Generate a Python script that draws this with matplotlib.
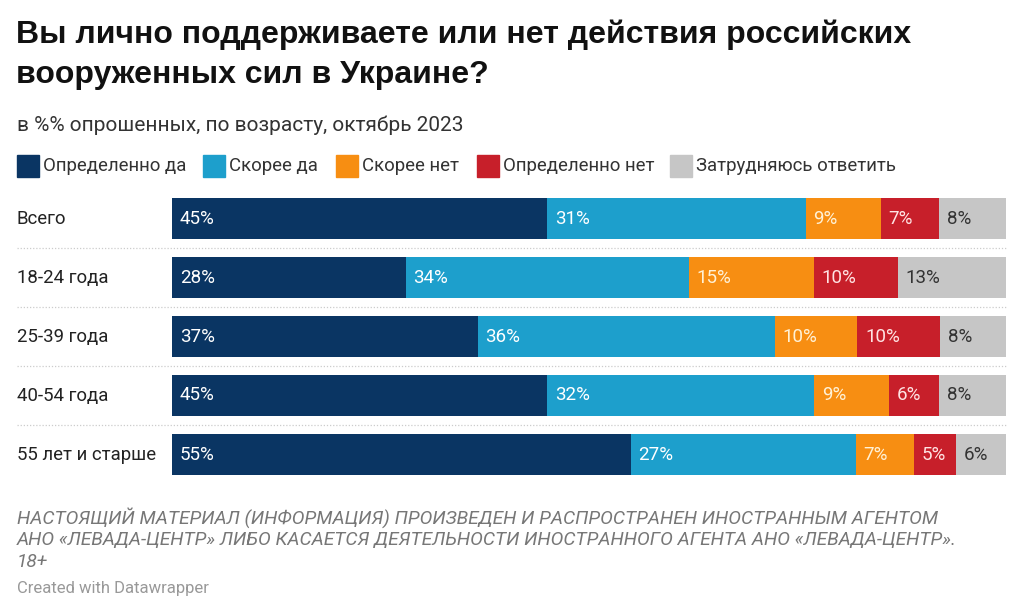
import numpy as np
import matplotlib
matplotlib.use('Agg')
from matplotlib import pyplot as plt
from matplotlib.patches import Rectangle
import matplotlib.transforms as mtrans

# data
groups = ['Всего', '18-24 года', '25-39 года', '40-54 года', '55 лет и старше']
answers = ['Определенно да', 'Скорее да', 'Скорее нет', 'Определенно нет', 'Затрудняюсь ответить']
def_yes = [45, 28, 37, 45, 55]
rather_yes = [31, 34, 36, 32, 27]
rather_no = [9, 15, 10, 9, 7]
def_no = [7, 10, 10, 6, 5]
dont_know = [8, 13, 8, 8, 6]

colors = ['#0a3563', '#1d9fcc', '#f78e12', '#c71f2a', '#c6c6c6']
label_colors = ['#ffffff', '#ffffff', '#fff1d6', '#ffe3e3', '#333333']

title_lines = ['Вы лично поддерживаете или нет действия российских',
               'вооруженных сил в Украине?']
subtitle = 'в %% опрошенных, по возрасту, октябрь 2023'
note_lines = ['НАСТОЯЩИЙ МАТЕРИАЛ (ИНФОРМАЦИЯ) ПРОИЗВЕДЕН И РАСПРОСТРАНЕН ИНОСТРАННЫМ АГЕНТОМ',
              'АНО «ЛЕВАДА-ЦЕНТР» ЛИБО КАСАЕТСЯ ДЕЯТЕЛЬНОСТИ ИНОСТРАННОГО АГЕНТА АНО «ЛЕВАДА-ЦЕНТР».',
              '18+']
credit = 'Created with Datawrapper'

plt.rcParams['font.family'] = ['Roboto', 'DejaVu Sans']

W, H = 1024, 616
fig = plt.figure(figsize=(W / 100, H / 100), dpi=100)
fig.patch.set_facecolor('white')

def fx(px):
    return px / W

def fy(py):
    return 1 - py / H

# title block
for py, line in zip([35, 75], title_lines):
    fig.text(fx(16), fy(py), line, fontsize=23, fontweight='bold', va='center', ha='left',
             family=['Liberation Sans', 'DejaVu Sans'], color='#111111')
fig.text(fx(17), fy(125), subtitle, fontsize=15, va='center', ha='left', color='#333333')

# legend
leg_x = [17, 203, 336, 477, 670]
for x0, c, name in zip(leg_x, colors, answers):
    fig.patches.append(Rectangle((fx(x0), fy(177)), fx(22), 22 / H, color=c,
                                 transform=fig.transFigure, figure=fig))
    fig.text(fx(x0 + 26), fy(166), name, fontsize=13.4, va='center', ha='left', color='#333333')

# bars
ax = fig.add_axes([fx(172), fy(484), fx(834), 295 / H])
data = np.array([def_yes, rather_yes, rather_no, def_no, dont_know], dtype=float)
totals = data.sum(axis=0)
shares = data / totals * 100
y = np.arange(len(groups))
left = np.zeros(len(groups))
for k in range(len(answers)):
    ax.barh(y, shares[k], left=left, height=0.7, color=colors[k], linewidth=0)
    for i in range(len(groups)):
        ax.annotate(f'{int(data[k, i])}%', (left[i], y[i]), xytext=(5.5, 0),
                    textcoords='offset points', va='center', ha='left',
                    fontsize=13.5, color=label_colors[k])
    left += shares[k]

ax.set_xlim(0, 100)
ax.set_ylim(len(groups) - 0.5, -0.5)
ax.axis('off')

trans = mtrans.blended_transform_factory(ax.transAxes, ax.transData)
for i, g in enumerate(groups):
    ax.text(-155 / 834, y[i], g, transform=trans, va='center', ha='left',
            fontsize=13.4, color='#222222')
for i in range(len(groups) - 1):
    ax.axhline(i + 0.5, xmin=-155 / 834, xmax=1, color='#cccccc', lw=0.9,
               ls=(0, (1, 1.5)), clip_on=False)

# footer
for py, line in zip([518, 540, 562], note_lines):
    fig.text(fx(17), fy(py), line, fontsize=13.8, style='italic', va='center', ha='left',
             color='#777777')
fig.text(fx(17), fy(588), credit, fontsize=12, va='center', ha='left', color='#999999')

fig.savefig('out.png', dpi=100)
